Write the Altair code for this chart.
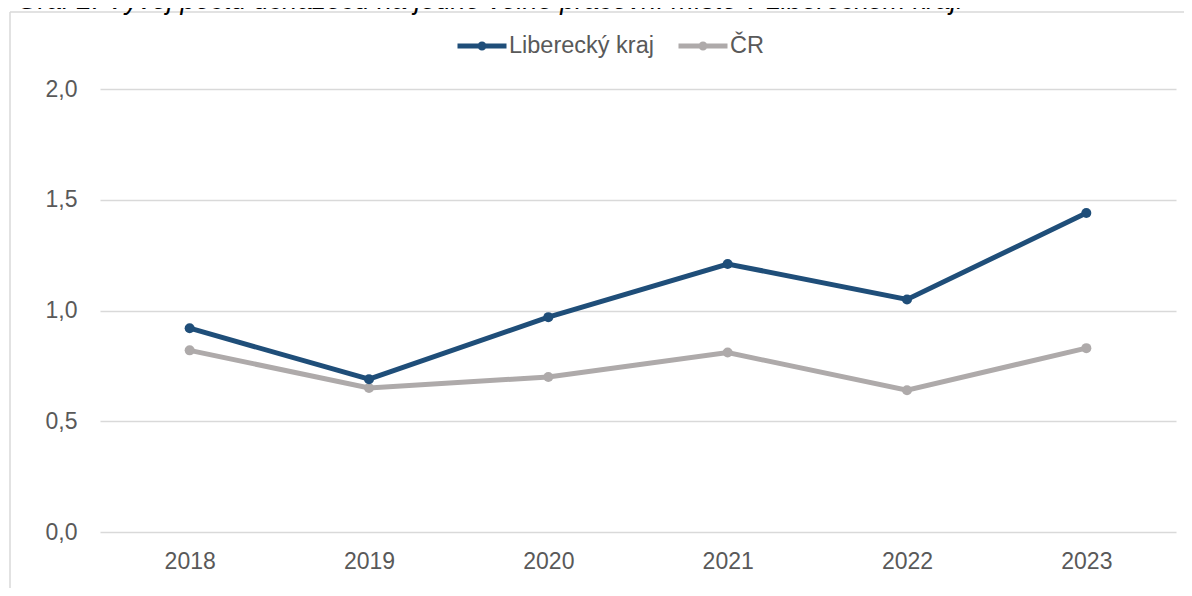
import altair as alt
import pandas as pd

years = ["2018", "2019", "2020", "2021", "2022", "2023"]
liberec = [0.92, 0.69, 0.97, 1.21, 1.05, 1.44]
cr = [0.82, 0.65, 0.70, 0.81, 0.64, 0.83]
series_names = ["Liberecký kraj", "ČR"]
series_colors = ["#1F4E79", "#AEAAAA"]
y_ticks = [0.0, 0.5, 1.0, 1.5, 2.0]
title_text = "Graf 2: Vývoj počtu uchazečů na jedno volné pracovní místo v Libereckém kraji"

df = pd.DataFrame({
    "rok": years * 2,
    "hodnota": liberec + cr,
    "rada": [series_names[0]] * len(years) + [series_names[1]] * len(years),
})

FONT = "Liberation Sans"
LBL = "#595959"

legend = alt.Legend(
    title=None,
    orient="none",
    direction="horizontal",
    legendX=355,
    legendY=-70,
    symbolType="M-1,0L1,0M0.08,0A0.08,0.08,0,1,1,-0.08,0A0.08,0.08,0,1,1,0.08,0",
    symbolSize=2401,
    symbolStrokeWidth=5,
    labelFont=FONT,
    labelFontSize=23.5,
    labelColor=LBL,
    labelOffset=0,
    columnPadding=14,
    padding=0,
)

color = alt.Color(
    "rada:N",
    scale=alt.Scale(domain=series_names, range=series_colors),
    legend=legend,
)

x = alt.X(
    "rok:O",
    scale=alt.Scale(type="point", padding=0.5),
    axis=alt.Axis(
        title=None, labelAngle=0, ticks=False, domain=False, grid=False,
        labelFont=FONT, labelFontSize=23, labelColor=LBL, labelPadding=18,
    ),
)
y = alt.Y(
    "hodnota:Q",
    scale=alt.Scale(domain=[0, 2], nice=False),
    axis=alt.Axis(
        title=None, values=y_ticks, ticks=False, domain=False, grid=True,
        gridColor="#D9D9D9", gridWidth=1.5,
        labelExpr="replace(format(datum.value, '.1f'), '.', ',')",
        labelFont=FONT, labelFontSize=23, labelColor=LBL, labelPadding=23,
    ),
)

base = alt.Chart(df)

gray_line = base.transform_filter(alt.datum.rada == series_names[1]).mark_line(strokeWidth=5).encode(x=x, y=y, color=color)
gray_pts = base.transform_filter(alt.datum.rada == series_names[1]).mark_point(filled=True, size=100, opacity=1).encode(x=x, y=y, color=color)
blue_line = base.transform_filter(alt.datum.rada == series_names[0]).mark_line(strokeWidth=5).encode(x=x, y=y, color=color)
blue_pts = base.transform_filter(alt.datum.rada == series_names[0]).mark_point(filled=True, size=100, opacity=1).encode(x=x, y=y, color=color)

one = pd.DataFrame({"t": [title_text]})
frame_top = alt.Chart(one).mark_rule(stroke="#D9D9D9", strokeWidth=1.5).encode(
    x=alt.value(-90), x2=alt.value(1091), y=alt.value(-77)
)
frame_left = alt.Chart(one).mark_rule(stroke="#D9D9D9", strokeWidth=1.5).encode(
    x=alt.value(-90), y=alt.value(-77), y2=alt.value(507)
)
title = alt.Chart(one).mark_text(
    align="left", baseline="alphabetic", font=FONT, fontStyle="italic", fontSize=27, color="#000000"
).encode(x=alt.value(-83), y=alt.value(-80), text="t:N")

chart = alt.layer(frame_top, frame_left, title, gray_line, gray_pts, blue_line, blue_pts).properties(
    width=1076,
    height=443,
    padding={"left": 92, "top": 81, "right": 8, "bottom": 56},
    autosize=alt.AutoSizeParams(type="none"),
    background="white",
).configure_view(stroke=None)

chart.save("out.html", embed_options={"renderer": "svg", "actions": False})
